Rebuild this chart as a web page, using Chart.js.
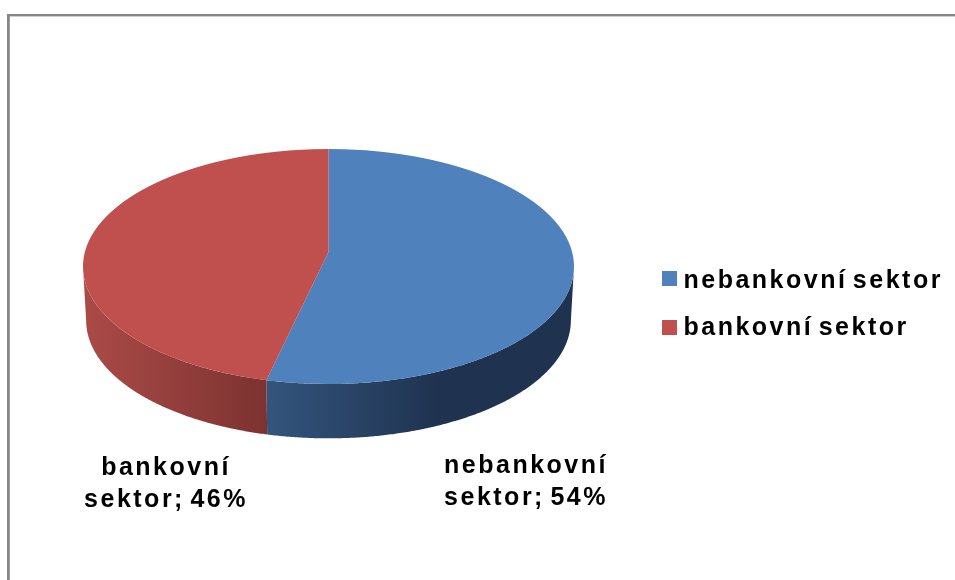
<!DOCTYPE html>
<html>
<head>
<meta charset="utf-8">
<style>html,body{margin:0;padding:0;background:#fff}canvas{display:block}</style>
<script src="https://cdn.jsdelivr.net/npm/chart.js@4"></script>
</head>
<body>
<canvas id="c" width="955" height="580"></canvas>
<script>
const categories = ['nebankovní sektor', 'bankovní sektor'];
const values = [53.6, 46.4];
const sliceColors = ['#4F81BD', '#C0504D'];
const wallStops = [
  [[0.385, '#33547C'], [0.72, '#1F3350'], [1, '#1F3350']],
  [[0.0, '#AC4B48'], [0.385, '#7B3230']]
];
const labelAnchors = [[526, 465], [166, 467]];
const legendMarkerTops = [271, 320];

// perspective of the tilted disc
const view = { cx: 328.5, cy: 252, k: 0.1234, R: 243.6, B: 115.7, R2: 240.5, B2: 116, cy2: 306 };
const wallLeft = 80, wallRight = 575;

function rimPoint(a, R, B, cy) {
  const u = Math.cos(a), v = Math.sin(a), w = 1 - view.k * v;
  return [view.cx + R * u / w, cy + B * v / w];
}

const disc3d = {
  id: 'disc3d',
  beforeDraw(chart) {
    const { ctx } = chart;
    ctx.save();
    ctx.fillStyle = '#868686';
    ctx.fillRect(7, 14, 948, 2.4);
    ctx.fillRect(7, 14, 2.8, 566);
    ctx.restore();
    ctx.letterSpacing = '2.5px';
    ctx.wordSpacing = '-4px';
  },
  afterLayout(chart) {
    const lg = chart.legend, pad = lg.options.labels.padding;
    lg.left = 662 - pad; lg.top = 268.8 - pad; lg.right = 955; lg.bottom = 580;
    lg.width = lg.right - lg.left; lg.height = lg.bottom - lg.top;
  },
  beforeDatasetsDraw(chart) {
    const { ctx } = chart;
    const meta = chart.getDatasetMeta(0);
    // side wall: only the rim in front of the widest row is visible
    meta.data.forEach((arc, i) => {
      const p = arc.getProps(['startAngle', 'endAngle'], true);
      const g = ctx.createLinearGradient(wallLeft, 0, wallRight, 0);
      wallStops[i].forEach(s => g.addColorStop(s[0], s[1]));
      const top = [], bottom = [];
      const n = 480;
      for (let j = 0; j <= n; j++) {
        const a = p.startAngle + (p.endAngle - p.startAngle) * j / n;
        if (Math.sin(a) < view.k) continue;
        top.push(rimPoint(a, view.R, view.B, view.cy));
        bottom.push(rimPoint(a, view.R2, view.B2, view.cy2));
      }
      ctx.save();
      ctx.fillStyle = g;
      ctx.beginPath();
      top.forEach((q, j) => j ? ctx.lineTo(q[0], q[1]) : ctx.moveTo(q[0], q[1]));
      bottom.reverse().forEach(q => ctx.lineTo(q[0], q[1]));
      ctx.closePath();
      ctx.fill();
      ctx.restore();
    });
    // top face, row by row through the perspective mapping
    for (let Y = 146; Y < 388; Y++) {
      const y = Y + 0.5, t = (y - view.cy) / view.B;
      const v = t / (1 + view.k * t), w = 1 - view.k * v;
      if (Math.abs(v) > 1.01) continue;
      meta.data.forEach(arc => {
        const p = arc.getProps(['x', 'y', 'outerRadius'], true);
        const sx = view.R / w / p.outerRadius;
        const sy = view.B / (w * w) / p.outerRadius;
        ctx.save();
        ctx.beginPath();
        ctx.rect(0, Y, chart.width, 1);
        ctx.clip();
        ctx.setTransform(sx, 0, 0, sy, view.cx - sx * p.x, y - sy * (p.y + v * p.outerRadius));
        arc.draw(ctx);
        ctx.restore();
      });
    }
    return false;
  },
  afterDraw(chart) {
    const { ctx } = chart;
    ctx.save();
    legendMarkerTops.forEach((top, i) => {
      ctx.fillStyle = sliceColors[i];
      ctx.fillRect(662, top, 15, 15);
    });
    ctx.fillStyle = '#000';
    ctx.font = 'bold 25px "Liberation Sans", Arial, sans-serif';
    ctx.textAlign = 'center';
    ctx.textBaseline = 'alphabetic';
    categories.forEach((name, i) => {
      const words = name.split(' ');
      const [x, y] = labelAnchors[i];
      ctx.fillText(words[0], x, y + 8);
      ctx.fillText(words[1] + '; ' + Math.round(values[i]) + '%', x, y + 40);
    });
    ctx.restore();
    ctx.letterSpacing = '0px';
    ctx.wordSpacing = '0px';
  }
};

new Chart(document.getElementById('c'), {
  type: 'pie',
  data: {
    labels: categories,
    datasets: [{ data: values, backgroundColor: sliceColors, borderWidth: 0 }]
  },
  options: {
    responsive: false,
    animation: false,
    plugins: {
      tooltip: { enabled: false },
      legend: {
        position: 'right',
        align: 'start',
        labels: {
          boxWidth: 9, boxHeight: 1, padding: 22, color: '#000',
          font: { family: '"Liberation Sans", Arial, sans-serif', size: 25, weight: 'bold' },
          generateLabels(chart) {
            return Chart.controllers.doughnut.overrides.plugins.legend.labels.generateLabels(chart)
              .map(item => Object.assign(item, { lineWidth: 0, fillStyle: 'rgba(0,0,0,0)' }));
          }
        }
      }
    }
  },
  plugins: [disc3d]
});
</script>
</body>
</html>
